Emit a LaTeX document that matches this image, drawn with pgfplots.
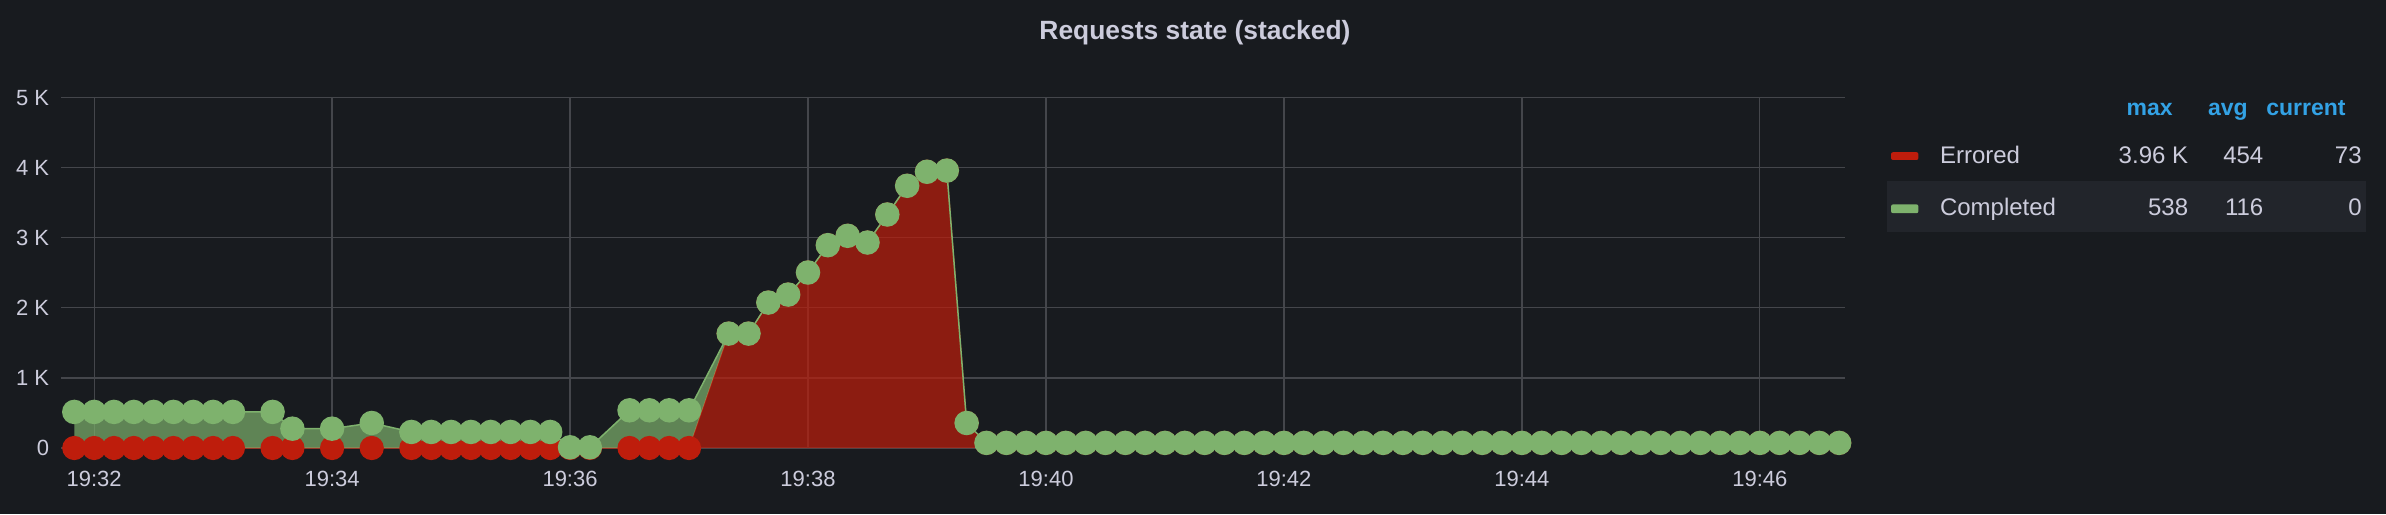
\documentclass[border=0pt]{standalone}
\usepackage{fontspec}
\setmainfont{Liberation Sans}
\usepackage{pgfplots}
\pgfplotsset{compat=1.18}
\usepgfplotslibrary{fillbetween}
\usepackage{pgfplotstable}
\definecolor{bg}{RGB}{24,27,31}
\definecolor{gridc}{RGB}{68,70,75}
\definecolor{txt}{RGB}{204,204,220}
\definecolor{hdr}{RGB}{51,162,229}
\definecolor{rowbg}{RGB}{34,37,43}
\definecolor{redc}{RGB}{190,29,12}
\definecolor{greenc}{RGB}{126,178,109}

% t = seconds after 19:30:00, e = errored, tot = errored + completed (stacked)
\pgfplotstableread{
t e tot
110 0 515
120 0 515
130 0 515
140 0 515
150 0 515
160 0 515
170 0 515
180 0 515
190 0 515
210 0 515
220 0 276
240 0 276
260 0 357
280 0 229
290 0 229
300 0 229
310 0 229
320 0 229
330 0 229
340 0 229
350 0 229
360 0 10
370 0 10
390 0 538
400 0 538
410 0 538
420 0 538
440 1633 1633
450 1633 1633
460 2076 2076
470 2190 2190
480 2505 2505
490 2895 2895
500 3029 3029
510 2933 2933
520 3333 3333
530 3743 3743
540 3943 3943
550 3960 3960
560 357 357
570 73 73
580 73 73
590 73 73
600 73 73
610 73 73
620 73 73
630 73 73
640 73 73
650 73 73
660 73 73
670 73 73
680 73 73
690 73 73
700 73 73
710 73 73
720 73 73
730 73 73
740 73 73
750 73 73
760 73 73
770 73 73
780 73 73
790 73 73
800 73 73
810 73 73
820 73 73
830 73 73
840 73 73
850 73 73
860 73 73
870 73 73
880 73 73
890 73 73
900 73 73
910 73 73
920 73 73
930 73 73
940 73 73
950 73 73
960 73 73
970 73 73
980 73 73
990 73 73
1000 73 73
}\data

\begin{document}
\begin{tikzpicture}
\begin{axis}[
  set layers,
  at={(30.5pt,33pt)}, anchor=south west,
  scale only axis, width=891.75pt, height=175.15pt,
  xmin=103.3, xmax=1002.7, ymin=0, ymax=5000,
  xtick={120,240,360,480,600,720,840,960},
  xticklabels={19:32,19:34,19:36,19:38,19:40,19:42,19:44,19:46},
  ytick={0,1000,2000,3000,4000,5000},
  yticklabels={0,1 K,2 K,3 K,4 K,5 K},
  grid=major, major grid style={gridc, line width=0.6pt},
  axis line style={draw=none}, major tick length=0pt,
  tick label style={text=txt, font=\fontsize{11}{13}\selectfont, inner sep=0pt},
  xticklabel style={anchor=base, yshift=-19pt},
  yticklabel style={anchor=east, xshift=-5.75pt},
  clip=false,
]
\begin{pgfonlayer}{axis background}
\fill[bg] (rel axis cs:-0.0342,-0.1884) rectangle (rel axis cs:1.3036,1.2789);
\end{pgfonlayer}
\addplot[draw=none, forget plot, name path=tot] table[x=t,y=tot]{\data};
\addplot[draw=none, fill=redc, fill opacity=0.7, forget plot] table[x=t,y=e]{\data} \closedcycle;
\addplot[redc, line width=0.6pt, name path=err, mark=*, mark size=5.75pt,
  mark options={draw=none, fill=redc}] table[x=t,y=e]{\data};
\addplot[fill=greenc, fill opacity=0.7, draw=none] fill between[of=err and tot, on layer=main];
\addplot[greenc, line width=0.75pt, mark=*, mark size=5.75pt,
  mark options={draw=none, fill=greenc}] table[x=t,y=tot]{\data};
\end{axis}
% title
\node[anchor=base, font=\bfseries\fontsize{13.2}{15}\selectfont, text=txt, inner sep=0pt]
  at (597.5pt,237.3pt) {Requests state (stacked)};
% legend
\fill[rowbg] (943.5pt,141pt) rectangle (1183pt,166.5pt);
\fill[redc, rounded corners=1pt] (945.5pt,177pt) rectangle (959.2pt,180.9pt);
\fill[greenc, rounded corners=1pt] (945.5pt,150.4pt) rectangle (959.2pt,154.8pt);
\begin{scope}[every node/.style={inner sep=0pt, text=txt, font=\fontsize{12}{14}\selectfont}]
\node[anchor=base east, text=hdr, font=\bfseries\fontsize{11.5}{14}\selectfont] at (1086.5pt,199pt) {max};
\node[anchor=base east, text=hdr, font=\bfseries\fontsize{11.5}{14}\selectfont] at (1124pt,199pt) {avg};
\node[anchor=base east, text=hdr, font=\bfseries\fontsize{11.5}{14}\selectfont] at (1173pt,199pt) {current};
\node[anchor=base west] at (969.8pt,175pt) {Errored};
\node[anchor=base east] at (1094.25pt,175pt) {3.96 K};
\node[anchor=base east] at (1131.85pt,175pt) {454};
\node[anchor=base east] at (1181pt,175pt) {73};
\node[anchor=base west] at (969.8pt,149.3pt) {Completed};
\node[anchor=base east] at (1094.25pt,149.3pt) {538};
\node[anchor=base east] at (1131.85pt,149.3pt) {116};
\node[anchor=base east] at (1181pt,149.3pt) {0};
\end{scope}
\pgfresetboundingbox
\useasboundingbox (0,0) rectangle (1193pt,257pt);
\end{tikzpicture}
\end{document}
